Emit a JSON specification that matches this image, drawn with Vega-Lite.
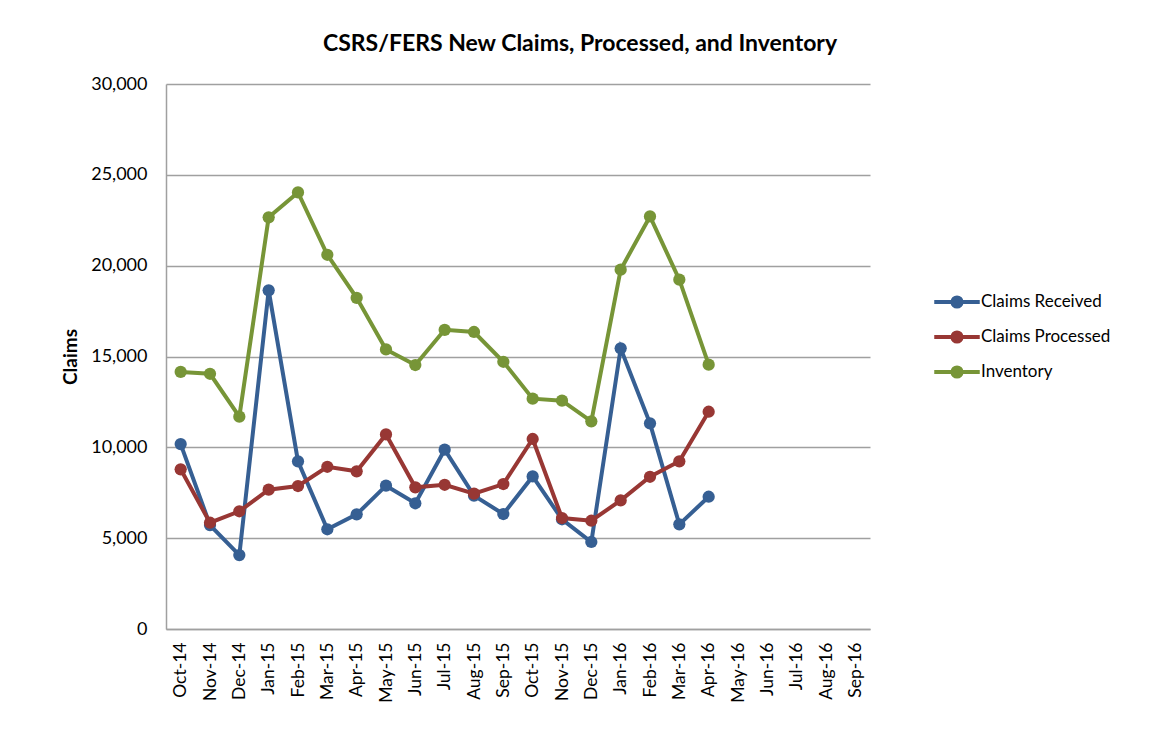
{
  "$schema": "https://vega.github.io/schema/vega-lite/v6.json",
  "autosize": {"type": "none"},
  "width": 704,
  "height": 545,
  "padding": {"left": 166, "top": 84, "right": 298, "bottom": 103},
  "background": "white",
  "title": {
    "text": "CSRS/FERS New Claims, Processed, and Inventory",
    "font": "Lato",
    "fontSize": 23,
    "fontWeight": "bold",
    "color": "#000000",
    "anchor": "middle",
    "dx": 62,
    "offset": 19
  },
  "data": {
    "values": [
      {"month": "Oct-14", "series": "Claims Received", "claims": 10180},
      {"month": "Nov-14", "series": "Claims Received", "claims": 5720},
      {"month": "Dec-14", "series": "Claims Received", "claims": 4070},
      {"month": "Jan-15", "series": "Claims Received", "claims": 18640},
      {"month": "Feb-15", "series": "Claims Received", "claims": 9230},
      {"month": "Mar-15", "series": "Claims Received", "claims": 5490},
      {"month": "Apr-15", "series": "Claims Received", "claims": 6310},
      {"month": "May-15", "series": "Claims Received", "claims": 7890},
      {"month": "Jun-15", "series": "Claims Received", "claims": 6920},
      {"month": "Jul-15", "series": "Claims Received", "claims": 9870},
      {"month": "Aug-15", "series": "Claims Received", "claims": 7340},
      {"month": "Sep-15", "series": "Claims Received", "claims": 6330},
      {"month": "Oct-15", "series": "Claims Received", "claims": 8400},
      {"month": "Nov-15", "series": "Claims Received", "claims": 6040},
      {"month": "Dec-15", "series": "Claims Received", "claims": 4790},
      {"month": "Jan-16", "series": "Claims Received", "claims": 15450},
      {"month": "Feb-16", "series": "Claims Received", "claims": 11320},
      {"month": "Mar-16", "series": "Claims Received", "claims": 5760},
      {"month": "Apr-16", "series": "Claims Received", "claims": 7280},
      {"month": "Oct-14", "series": "Claims Processed", "claims": 8790},
      {"month": "Nov-14", "series": "Claims Processed", "claims": 5850},
      {"month": "Dec-14", "series": "Claims Processed", "claims": 6480},
      {"month": "Jan-15", "series": "Claims Processed", "claims": 7670},
      {"month": "Feb-15", "series": "Claims Processed", "claims": 7870},
      {"month": "Mar-15", "series": "Claims Processed", "claims": 8930},
      {"month": "Apr-15", "series": "Claims Processed", "claims": 8680},
      {"month": "May-15", "series": "Claims Processed", "claims": 10710},
      {"month": "Jun-15", "series": "Claims Processed", "claims": 7800},
      {"month": "Jul-15", "series": "Claims Processed", "claims": 7940},
      {"month": "Aug-15", "series": "Claims Processed", "claims": 7450},
      {"month": "Sep-15", "series": "Claims Processed", "claims": 7980},
      {"month": "Oct-15", "series": "Claims Processed", "claims": 10460},
      {"month": "Nov-15", "series": "Claims Processed", "claims": 6110},
      {"month": "Dec-15", "series": "Claims Processed", "claims": 5960},
      {"month": "Jan-16", "series": "Claims Processed", "claims": 7080},
      {"month": "Feb-16", "series": "Claims Processed", "claims": 8380},
      {"month": "Mar-16", "series": "Claims Processed", "claims": 9230},
      {"month": "Apr-16", "series": "Claims Processed", "claims": 11960},
      {"month": "Oct-14", "series": "Inventory", "claims": 14150},
      {"month": "Nov-14", "series": "Inventory", "claims": 14050},
      {"month": "Dec-14", "series": "Inventory", "claims": 11690},
      {"month": "Jan-15", "series": "Inventory", "claims": 22660},
      {"month": "Feb-15", "series": "Inventory", "claims": 24030},
      {"month": "Mar-15", "series": "Inventory", "claims": 20600},
      {"month": "Apr-15", "series": "Inventory", "claims": 18230},
      {"month": "May-15", "series": "Inventory", "claims": 15390},
      {"month": "Jun-15", "series": "Inventory", "claims": 14530},
      {"month": "Jul-15", "series": "Inventory", "claims": 16470},
      {"month": "Aug-15", "series": "Inventory", "claims": 16350},
      {"month": "Sep-15", "series": "Inventory", "claims": 14710},
      {"month": "Oct-15", "series": "Inventory", "claims": 12680},
      {"month": "Nov-15", "series": "Inventory", "claims": 12570},
      {"month": "Dec-15", "series": "Inventory", "claims": 11430},
      {"month": "Jan-16", "series": "Inventory", "claims": 19780},
      {"month": "Feb-16", "series": "Inventory", "claims": 22710},
      {"month": "Mar-16", "series": "Inventory", "claims": 19230},
      {"month": "Apr-16", "series": "Inventory", "claims": 14550}
    ]
  },
  "mark": {"type": "line", "strokeWidth": 4, "point": {"size": 150, "filled": true}},
  "encoding": {
    "x": {
      "field": "month",
      "type": "ordinal",
      "sort": ["Oct-14","Nov-14","Dec-14","Jan-15","Feb-15","Mar-15","Apr-15","May-15","Jun-15","Jul-15","Aug-15","Sep-15","Oct-15","Nov-15","Dec-15","Jan-16","Feb-16","Mar-16","Apr-16","May-16","Jun-16","Jul-16","Aug-16","Sep-16"],
      "scale": {
        "type": "point",
        "padding": 0.5,
        "domain": ["Oct-14","Nov-14","Dec-14","Jan-15","Feb-15","Mar-15","Apr-15","May-15","Jun-15","Jul-15","Aug-15","Sep-15","Oct-15","Nov-15","Dec-15","Jan-16","Feb-16","Mar-16","Apr-16","May-16","Jun-16","Jul-16","Aug-16","Sep-16"]
      },
      "axis": {
        "title": null,
        "labelAngle": 270,
        "labelFont": "Lato",
        "labelFontSize": 17.5,
        "labelColor": "#000000",
        "labelPadding": 13,
        "ticks": false,
        "domainColor": "#a0a0a0",
        "domainWidth": 1.5,
        "grid": false
      }
    },
    "y": {
      "field": "claims",
      "type": "quantitative",
      "scale": {"domain": [0, 30000], "nice": false},
      "axis": {
        "title": "Claims",
        "titleFont": "Lato",
        "titleFontSize": 19,
        "titleFontWeight": "bold",
        "titleColor": "#000000",
        "titlePadding": 10,
        "values": [0, 5000, 10000, 15000, 20000, 25000, 30000],
        "format": ",d",
        "labelFont": "Lato",
        "labelFontSize": 18,
        "labelColor": "#000000",
        "labelPadding": 19,
        "ticks": false,
        "domainColor": "#a0a0a0",
        "domainWidth": 1.5,
        "grid": true,
        "gridColor": "#a0a0a0",
        "gridWidth": 1.5
      }
    },
    "color": {
      "field": "series",
      "type": "nominal",
      "sort": ["Claims Received", "Claims Processed", "Inventory"],
      "scale": {
        "domain": ["Claims Received", "Claims Processed", "Inventory"],
        "range": ["#365F93", "#983734", "#779537"]
      },
      "legend": {
        "title": null,
        "orient": "none",
        "legendX": 776,
        "legendY": 203,
        "labelFont": "Lato",
        "labelFontSize": 17,
        "labelColor": "#000000",
        "labelOffset": 9,
        "rowPadding": 7,
        "symbolType": "M-1.75,0 L1.75,0 M-0.35,0 A0.35,0.35 0 1,0 0.35,0 A0.35,0.35 0 1,0 -0.35,0 Z",
        "symbolSize": 676,
        "symbolStrokeWidth": 4
      }
    }
  },
  "config": {
    "view": {"stroke": null}
  }
}
